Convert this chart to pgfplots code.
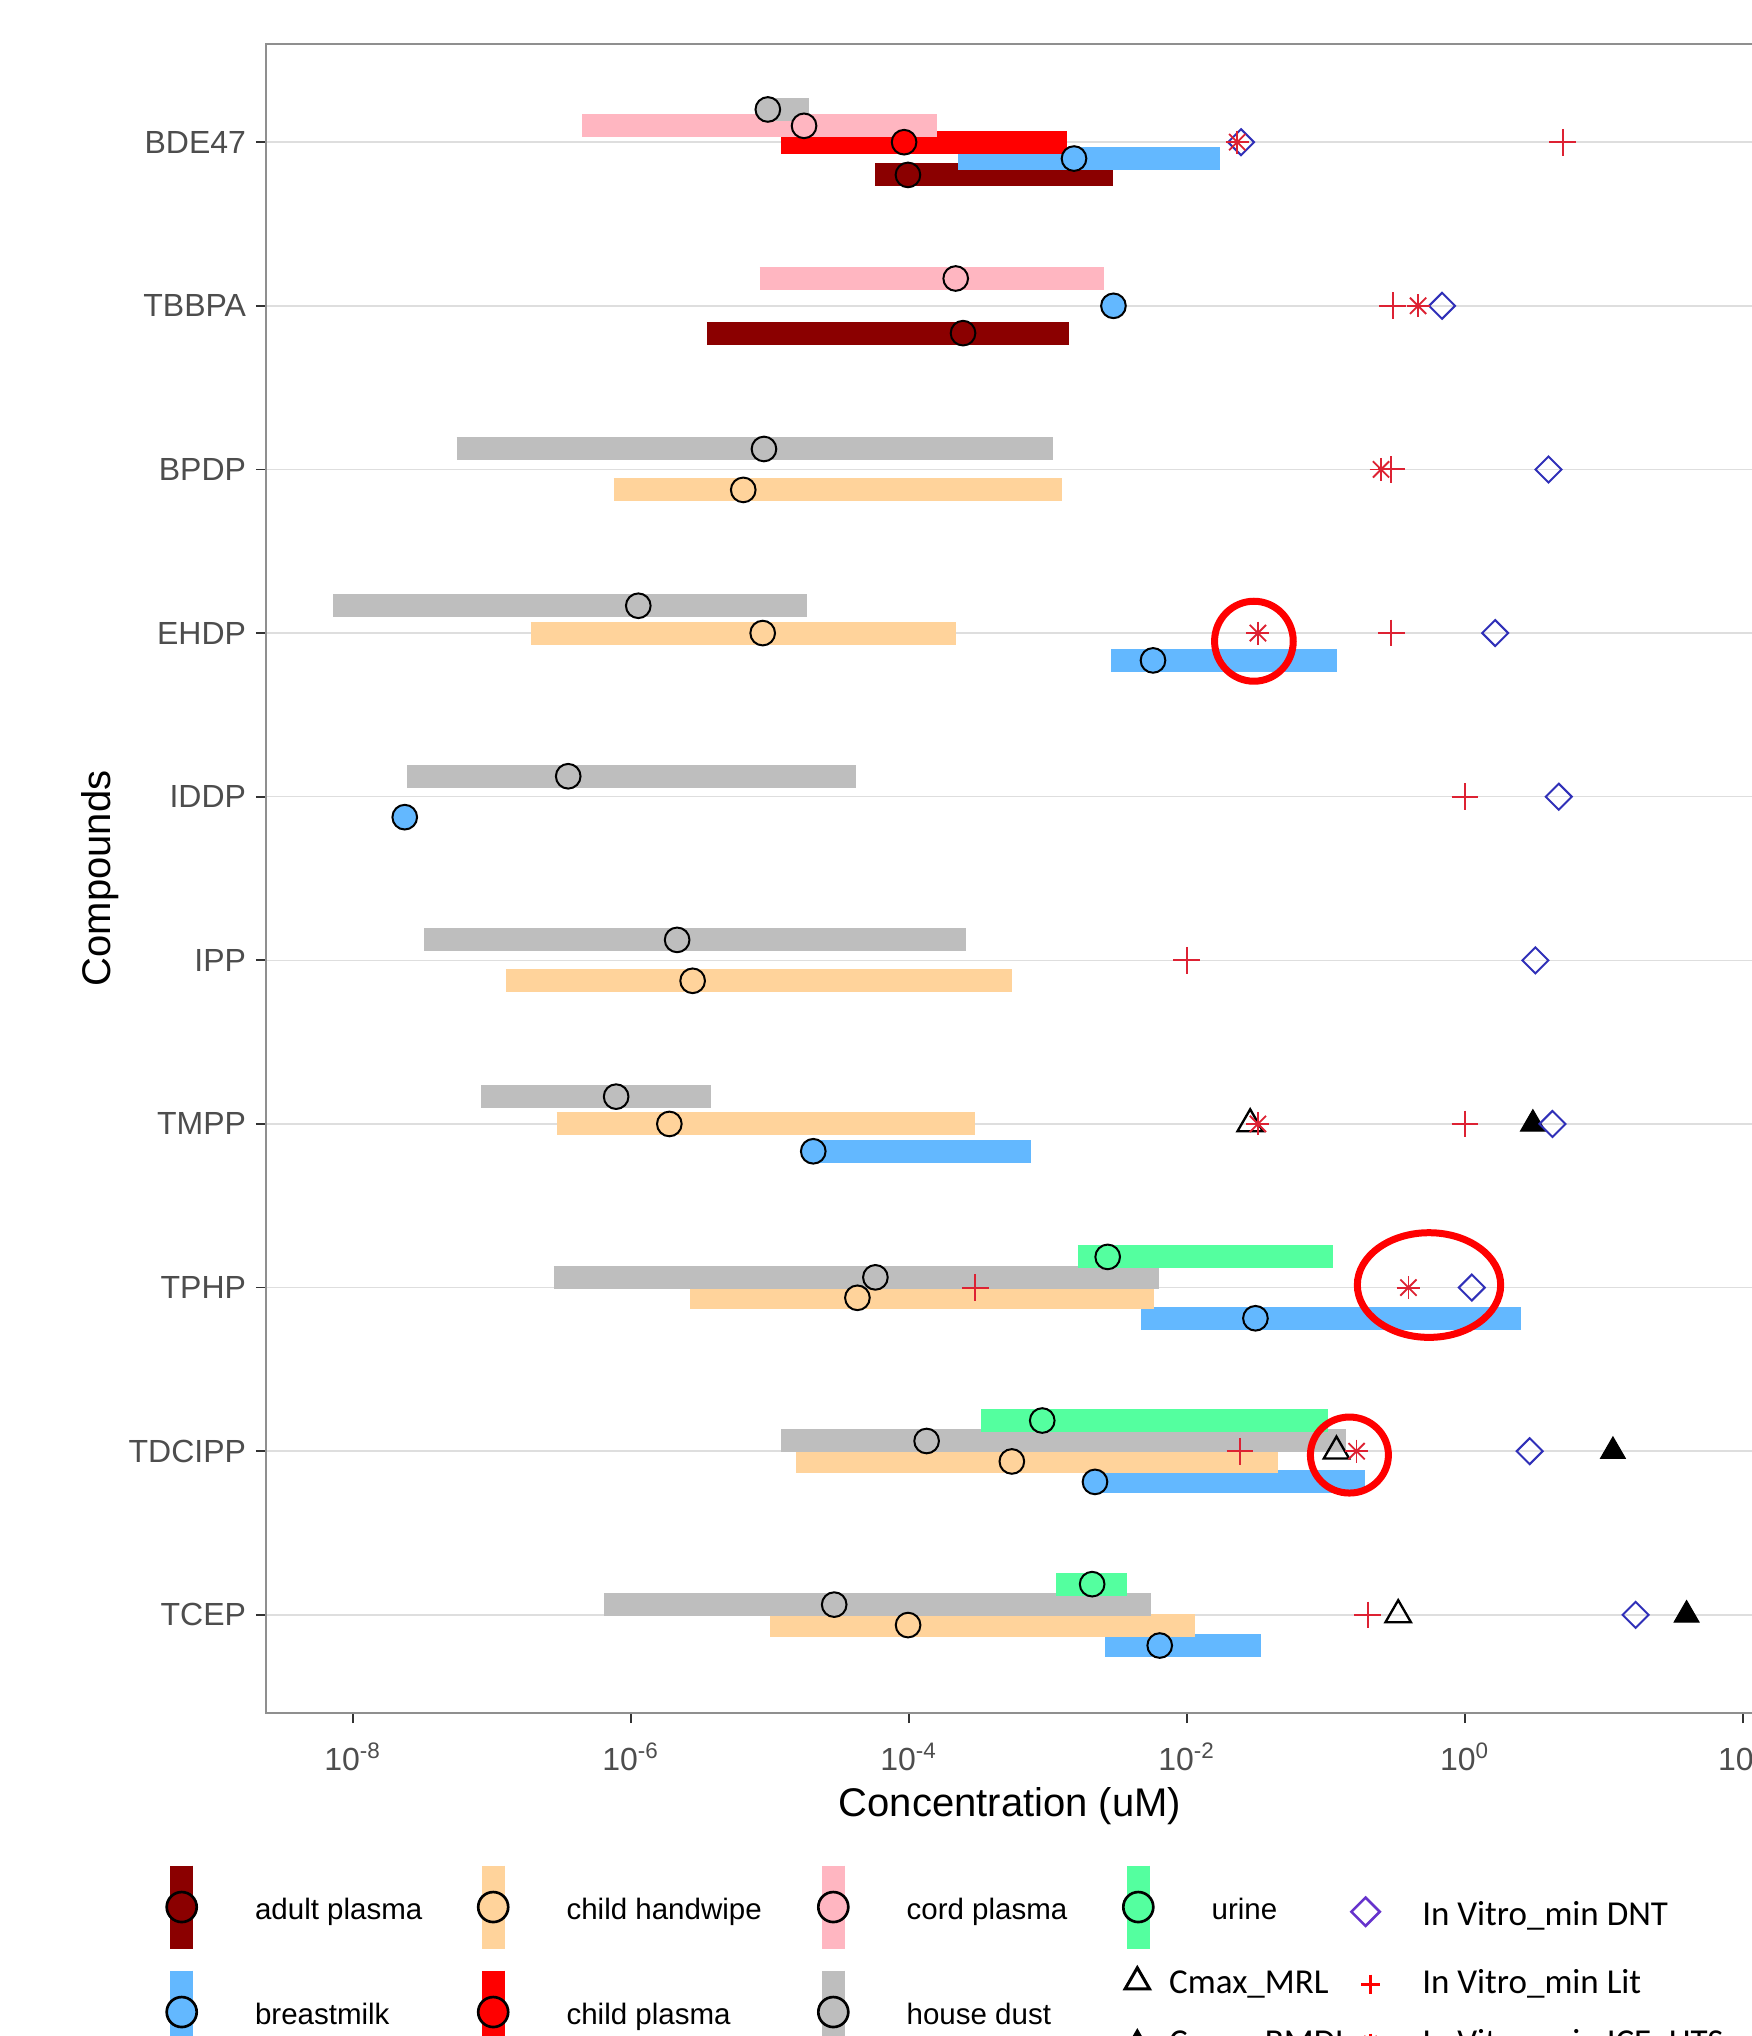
\documentclass[border=0pt]{standalone}
\usepackage{pgfplots}
\pgfplotsset{compat=1.18}
\usepackage{fontspec}
\setmainfont{Liberation Sans}
\newfontfamily\calfont{Carlito}

\definecolor{cAdult}{HTML}{8B0000}
\definecolor{cBreast}{HTML}{63B8FF}
\definecolor{cHand}{HTML}{FFD39B}
\definecolor{cChild}{HTML}{FF0000}
\definecolor{cCord}{HTML}{FFB6C1}
\definecolor{cDust}{HTML}{BEBEBE}
\definecolor{cUrine}{HTML}{54FF9F}
\definecolor{cDNT}{HTML}{3030B8}
\definecolor{cDNTleg}{HTML}{6633CC}
\definecolor{cLit}{HTML}{DD2233}
\definecolor{cBorder}{HTML}{8F8F8F}
\definecolor{cGrid}{HTML}{DEDEDE}
\definecolor{cTickLab}{HTML}{4D4D4D}
\definecolor{cTick}{HTML}{333333}

\pgfplotsset{
  rng/.style={line width=6.9pt, line cap=butt, unbounded coords=jump, forget plot},
  med/.style={only marks, mark=*, mark size=3.7pt, mark options={fill=#1, draw=black, line width=0.6pt}, forget plot},
  lmed/.style={only marks, mark=*, mark size=4.5pt, mark options={fill=#1, draw=black, line width=0.8pt}, forget plot},
}
\tikzset{
  ltxt/.style={anchor=base west, inner sep=0pt, font=\fontsize{8.85pt}{10pt}\selectfont},
  rtxt/.style={anchor=base west, inner sep=0pt, font=\calfont\fontsize{10.5pt}{12pt}\selectfont},
}

\begin{document}
\begin{tikzpicture}
\begin{axis}[
  at={(79.8pt,-513.9pt)}, anchor=south west,
  scale only axis, width=446.4pt, height=500.7pt,
  xmode=log, xmin=2.37e-9, xmax=120,
  ymin=0.4, ymax=10.6,
  xtick={1e-8,1e-6,1e-4,1e-2,1,100},
  xticklabels={10\textsuperscript{-8},10\textsuperscript{-6},10\textsuperscript{-4},10\textsuperscript{-2},10\textsuperscript{0},10\textsuperscript{2}},
  xminorticks=false,
  ytick={1,...,10},
  yticklabels={TCEP,TDCIPP,TPHP,TMPP,IPP,IDDP,EHDP,BPDP,TBBPA,BDE47},
  ymajorgrids, major grid style={cGrid, line width=0.45pt},
  axis line style={cBorder, line width=0.5pt},
  tick align=outside, major tick length=3pt,
  tick pos=left,
  tick style={cTick, line width=0.5pt},
  ticklabel style={font=\fontsize{9.6pt}{11pt}\selectfont, text=cTickLab},
  xticklabel style={anchor=base, inner sep=0pt, yshift=-14.3pt},
  yticklabel style={anchor=east, inner sep=0pt, xshift=-2.8pt},
  xlabel={Concentration (uM)},
  xlabel style={at={(axis description cs:0.5,-0.0617)}, anchor=base, font=\fontsize{12pt}{14pt}\selectfont},
  ylabel={Compounds},
  ylabel style={at={(axis description cs:-0.1042,0.5)}, anchor=base, font=\fontsize{12pt}{14pt}\selectfont},
]
% ranges, in ggplot group order
\addplot[rng, cAdult] coordinates {(5.74e-5,9.8) (2.92e-3,9.8) (nan,nan) (3.52e-6,8.833) (1.42e-3,8.833)};
\addplot[rng, cBreast] coordinates {(2.27e-4,9.9) (1.74e-2,9.9) (nan,nan) (2.86e-3,6.833) (0.120,6.833) (nan,nan)
  (2.05e-5,3.833) (7.57e-4,3.833) (nan,nan) (4.70e-3,2.8125) (2.54,2.8125) (nan,nan)
  (2.18e-3,1.8125) (0.191,1.8125) (nan,nan) (2.58e-3,0.8125) (3.43e-2,0.8125)};
\addplot[rng, cHand] coordinates {(7.50e-7,7.875) (1.27e-3,7.875) (nan,nan) (1.90e-7,7) (2.18e-4,7) (nan,nan)
  (1.26e-7,4.875) (5.48e-4,4.875) (nan,nan) (2.92e-7,4) (3.01e-4,4) (nan,nan)
  (2.66e-6,2.9375) (5.82e-3,2.9375) (nan,nan) (1.55e-5,1.9375) (4.53e-2,1.9375) (nan,nan)
  (9.93e-6,0.9375) (1.14e-2,0.9375)};
\addplot[rng, cChild] coordinates {(1.20e-5,10) (1.38e-3,10)};
\addplot[rng, cCord] coordinates {(4.48e-7,10.1) (1.58e-4,10.1) (nan,nan) (8.43e-6,9.167) (2.54e-3,9.167)};
\addplot[rng, cDust] coordinates {(8.87e-6,10.2) (1.92e-5,10.2) (nan,nan) (5.57e-8,8.125) (1.09e-3,8.125) (nan,nan)
  (7.24e-9,7.167) (1.84e-5,7.167) (nan,nan) (2.47e-8,6.125) (4.16e-5,6.125) (nan,nan)
  (3.26e-8,5.125) (2.58e-4,5.125) (nan,nan) (8.39e-8,4.167) (3.76e-6,4.167) (nan,nan)
  (2.79e-7,3.0625) (6.34e-3,3.0625) (nan,nan) (1.21e-5,2.0625) (0.140,2.0625) (nan,nan)
  (6.41e-7,1.0625) (5.55e-3,1.0625)};
\addplot[rng, cUrine] coordinates {(1.64e-3,3.1875) (0.113,3.1875) (nan,nan) (3.32e-4,2.1875) (0.103,2.1875) (nan,nan)
  (1.15e-3,1.1875) (3.72e-3,1.1875)};
% medians
\addplot[med=cAdult] coordinates {(9.84e-5,9.8) (2.45e-4,8.833)};
\addplot[med=cBreast] coordinates {(1.54e-3,9.9) (2.96e-3,9) (5.70e-3,6.833) (2.36e-8,5.875) (2.05e-5,3.833) (3.11e-2,2.8125) (2.18e-3,1.8125) (6.37e-3,0.8125)};
\addplot[med=cHand] coordinates {(6.43e-6,7.875) (8.87e-6,7) (2.78e-6,4.875) (1.89e-6,4) (4.26e-5,2.9375) (5.50e-4,1.9375) (9.86e-5,0.9375)};
\addplot[med=cChild] coordinates {(9.23e-5,10)};
\addplot[med=cCord] coordinates {(1.76e-5,10.1) (2.17e-4,9.167)};
\addplot[med=cDust] coordinates {(9.66e-6,10.2) (9.06e-6,8.125) (1.13e-6,7.167) (3.54e-7,6.125) (2.15e-6,5.125) (7.83e-7,4.167) (5.74e-5,3.0625) (1.34e-4,2.0625) (2.90e-5,1.0625)};
\addplot[med=cUrine] coordinates {(2.69e-3,3.1875) (9.10e-4,2.1875) (2.08e-3,1.1875)};
% Cmax_MRL (open triangles)
\addplot[only marks, mark=triangle, mark size=4.4pt, mark options={draw=black, line width=0.7pt}, forget plot]
  coordinates {(2.85e-2,4) (0.119,2) (0.331,1)};
% Cmax_BMDL (filled triangles)
\addplot[only marks, mark=triangle*, mark size=4.3pt, mark options={draw=black, fill=black, line width=0.3pt}, forget plot]
  coordinates {(3.08,4) (11.6,2) (39.3,1)};
% In Vitro_min DNT
\addplot[only marks, mark=square, mark size=2.76pt, mark options={draw=cDNT, line width=0.6pt, rotate=45}, forget plot]
  coordinates {(2.45e-2,10) (0.684,9) (3.99,8) (1.65,7) (4.73,6) (3.21,5) (4.26,4) (1.12,3) (2.92,2) (16.9,1)};
% In Vitro_min Lit
\addplot[only marks, mark=+, mark size=4pt, mark options={draw=cLit, line width=0.6pt}, forget plot]
  coordinates {(5.05,10) (0.302,9) (0.296,8) (0.296,7) (1.0,6) (9.95e-3,5) (1.0,4) (3.01e-4,3) (2.41e-2,2) (0.200,1)};
% In Vitro_min ICE_HTS (8-armed asterisk)
\addplot[only marks, mark=+, mark size=3.45pt, mark options={draw=cLit, line width=0.55pt}, forget plot]
  coordinates {(2.30e-2,10) (0.460,9) (0.249,8) (3.24e-2,7) (3.24e-2,4) (0.392,3) (0.166,2)};
\addplot[only marks, mark=x, mark size=3.45pt, mark options={draw=cLit, line width=0.55pt}, forget plot]
  coordinates {(2.30e-2,10) (0.460,9) (0.249,8) (3.24e-2,7) (3.24e-2,4) (0.392,3) (0.166,2)};
\end{axis}

% overlay axis in image pixel units for legend and annotations
\begin{axis}[
  at={(0pt,0pt)}, anchor=north west,
  scale only axis, width=525.3pt, height=610.8pt,
  xmin=0, xmax=1751, ymin=0, ymax=2036, y dir=reverse,
  hide axis, clip=false,
]
\addplot[rng, cAdult] coordinates {(181.7,1865.5) (181.7,1948.5)};
\addplot[rng, cHand] coordinates {(493.2,1865.5) (493.2,1948.5)};
\addplot[rng, cCord] coordinates {(833.3,1865.5) (833.3,1948.5)};
\addplot[rng, cUrine] coordinates {(1138.3,1865.5) (1138.3,1948.5)};
\addplot[rng, cBreast] coordinates {(181.7,1970.5) (181.7,2053.5)};
\addplot[rng, cChild] coordinates {(493.2,1970.5) (493.2,2053.5)};
\addplot[rng, cDust] coordinates {(833.3,1970.5) (833.3,2053.5)};
\addplot[lmed=cAdult] coordinates {(181.7,1907)};
\addplot[lmed=cHand] coordinates {(493.2,1907)};
\addplot[lmed=cCord] coordinates {(833.3,1907)};
\addplot[lmed=cUrine] coordinates {(1138.3,1907)};
\addplot[lmed=cBreast] coordinates {(181.7,2012)};
\addplot[lmed=cChild] coordinates {(493.2,2012)};
\addplot[lmed=cDust] coordinates {(833.3,2012)};
\addplot[only marks, mark=square, mark size=3pt, mark options={draw=cDNTleg, line width=0.75pt, rotate=45}, forget plot] coordinates {(1365.6,1911.7)};
\addplot[only marks, mark=triangle, mark size=4.2pt, mark options={draw=black, line width=0.9pt}, forget plot] coordinates {(1137.3,1981.7)};
\addplot[only marks, mark=+, mark size=2.85pt, mark options={draw=red, line width=0.9pt}, forget plot] coordinates {(1370.5,1984)};
\addplot[only marks, mark=triangle*, mark size=4.2pt, mark options={draw=black, fill=black}, forget plot] coordinates {(1137.3,2043.4)};
\addplot[only marks, mark=+, mark size=2.85pt, mark options={draw=red, line width=0.9pt}, forget plot] coordinates {(1370.5,2043)};
\addplot[only marks, mark=x, mark size=2.85pt, mark options={draw=red, line width=0.9pt}, forget plot] coordinates {(1370.5,2043)};
\node[ltxt] at (axis cs:254.4,1919) {adult plasma};
\node[ltxt] at (axis cs:565.9,1919) {child handwipe};
\node[ltxt] at (axis cs:906,1919) {cord plasma};
\node[ltxt] at (axis cs:1211,1919) {urine};
\node[ltxt] at (axis cs:254.4,2024) {breastmilk};
\node[ltxt] at (axis cs:565.9,2024) {child plasma};
\node[ltxt] at (axis cs:906,2024) {house dust};
\node[rtxt] at (axis cs:1421.6,1925) {In Vitro\_min DNT};
\node[rtxt] at (axis cs:1168.5,1993.3) {Cmax\_MRL};
\node[rtxt] at (axis cs:1421.6,1993.3) {In Vitro\_min Lit};
\node[rtxt] at (axis cs:1168.5,2053.6) {Cmax\_BMDL};
\node[rtxt] at (axis cs:1421.6,2053.6) {In Vitro\_min ICE\_HTS};
\draw[red, line width=2.1pt] (axis cs:1253.9,641.2) ellipse [x radius=11.8pt, y radius=12pt];
\draw[red, line width=2.1pt] (axis cs:1429,1285) ellipse [x radius=21.5pt, y radius=15.7pt];
\draw[red, line width=2.1pt] (axis cs:1349.4,1455) ellipse [x radius=11.7pt, y radius=11.4pt];
\end{axis}
\pgfresetboundingbox
\path[use as bounding box] (0pt,0pt) rectangle (525.3pt,-610.8pt);
\end{tikzpicture}
\end{document}
